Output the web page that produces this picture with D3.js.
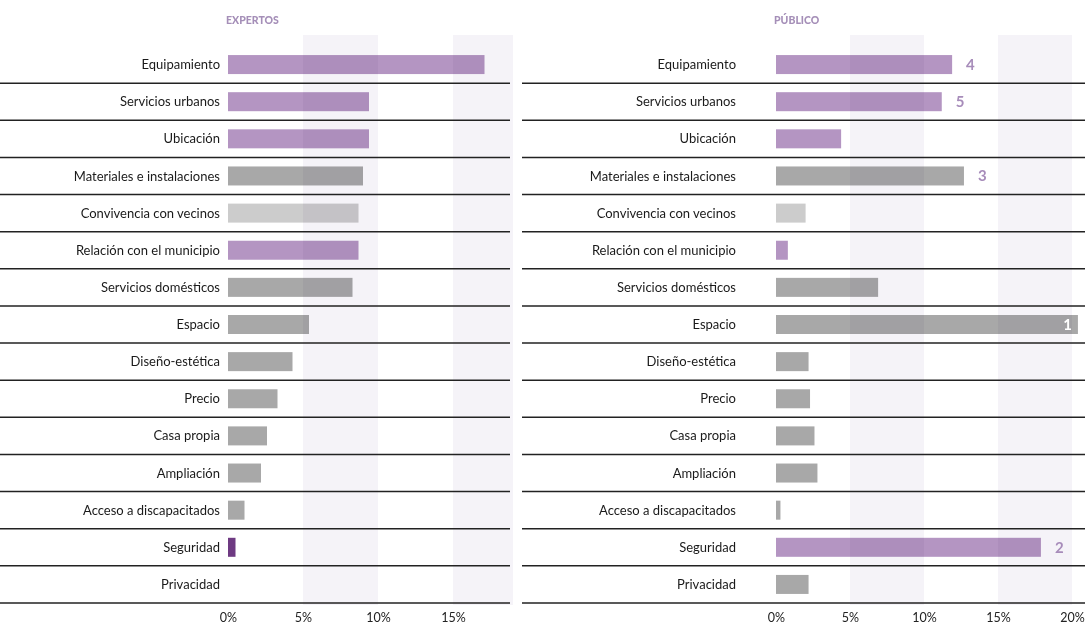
<!DOCTYPE html>
<html>
<head>
<meta charset="utf-8">
<script src="https://cdn.jsdelivr.net/npm/d3@7"></script>
<style>
  body { margin: 0; background: #fff; }
  text { font-family: "Lato", "Open Sans", sans-serif; }
</style>
</head>
<body>
<div id="chart"></div>
<script>
// Data
const categories = [
  "Equipamiento", "Servicios urbanos", "Ubicación", "Materiales e instalaciones",
  "Convivencia con vecinos", "Relación con el municipio", "Servicios domésticos",
  "Espacio", "Diseño-estética", "Precio", "Casa propia", "Ampliación",
  "Acceso a discapacitados", "Seguridad", "Privacidad"
]
const expertos = [17.1, 9.4, 9.4, 9.0, 8.7, 8.7, 8.3, 5.4, 4.3, 3.3, 2.6, 2.2, 1.1, 0.5, 0]
const publico = [11.9, 11.2, 4.4, 12.7, 2.0, 0.8, 6.9, 20.4, 2.2, 2.3, 2.6, 2.8, 0.3, 17.9, 2.2]
const expertosKind = ["p", "p", "p", "g", "l", "p", "g", "g", "g", "g", "g", "g", "g", "d", "g"]
const publicoKind = ["p", "p", "p", "g", "l", "p", "g", "g", "g", "g", "g", "g", "g", "p", "g"]
const publicoRank = [4, 5, null, 3, null, null, null, 1, null, null, null, null, null, 2, null]
const expertosTicks = [0, 5, 10, 15]
const publicoTicks = [0, 5, 10, 15, 20]

const W = 1085, H = 630

const kindColor = d3.scaleOrdinal()
  .domain(["p", "g", "l", "d"])
  .range(["#b495c2", "#a8a8a8", "#cccccc", "#6e3a82"])

const svg = d3.select("#chart").append("svg")
  .attr("width", W).attr("height", H)

const y = d3.scaleBand().domain(categories).range([46, 603])
const barH = 19

function panel(opt) {
  const x = d3.scaleLinear().domain(opt.domain).range(opt.range)
  const g = svg.append("g")

  // title
  g.append("text")
    .attr("x", x(0) - 2).attr("y", 24)
    .style("font-size", "10.5px").style("font-weight", "900")
    .style("fill", "#a58fb8")
    .text(opt.title)

  // bars
  g.selectAll("rect.bar")
    .data(categories)
    .enter().append("rect")
    .attr("class", "bar")
    .attr("x", x(0))
    .attr("y", d => y(d) + (y.bandwidth() - barH) / 2)
    .attr("width", (d, i) => x(opt.values[i]) - x(0))
    .attr("height", barH)
    .style("fill", (d, i) => kindColor(opt.kinds[i]))

  // shaded bands, on top so bars darken a bit
  g.selectAll("rect.shade")
    .data(opt.shades)
    .enter().append("rect")
    .attr("class", "shade")
    .attr("x", d => x(d[0]))
    .attr("width", d => x(d[1]) - x(d[0]))
    .attr("y", 35).attr("height", 570)
    .style("fill", "#f5f3f8")
    .style("mix-blend-mode", "multiply")

  // row lines
  g.selectAll("line.row")
    .data(categories)
    .enter().append("line")
    .attr("class", "row")
    .attr("x1", opt.lineX[0]).attr("x2", opt.lineX[1])
    .attr("y1", d => y(d) + y.bandwidth())
    .attr("y2", d => y(d) + y.bandwidth())
    .style("stroke", "#222").style("stroke-width", 1.5)

  // category labels
  g.selectAll("text.cat")
    .data(categories)
    .enter().append("text")
    .attr("class", "cat")
    .attr("x", opt.labelX)
    .attr("y", d => y(d) + y.bandwidth() / 2)
    .attr("dy", "0.35em")
    .attr("text-anchor", "end")
    .style("font-size", "13px").style("fill", "#1a1a1a")
    .text(d => d)

  // rank numbers
  if (opt.ranks) {
    g.selectAll("text.rank")
      .data(categories)
      .enter().append("text")
      .filter((d, i) => opt.ranks[i] != null)
      .attr("class", "rank")
      .attr("x", d => {
        const i = categories.indexOf(d)
        return x(opt.values[i]) > x(opt.domain[1]) ? x(opt.values[i]) - 6 : x(opt.values[i]) + 14
      })
      .attr("y", d => y(d) + y.bandwidth() / 2)
      .attr("dy", "0.36em")
      .attr("text-anchor", d => {
        const i = categories.indexOf(d)
        return x(opt.values[i]) > x(opt.domain[1]) ? "end" : "start"
      })
      .style("font-size", "15px").style("font-weight", "bold")
      .style("fill", d => {
        const i = categories.indexOf(d)
        return x(opt.values[i]) > x(opt.domain[1]) ? "#fff" : "#a78cba"
      })
      .text(d => opt.ranks[categories.indexOf(d)])
  }

  // axis
  const axis = d3.axisBottom(x)
    .tickValues(opt.ticks)
    .tickSize(0)
    .tickFormat(d => d + "%")
  g.append("g")
    .attr("transform", "translate(0,610)")
    .call(axis)
    .call(a => a.select(".domain").remove())
    .selectAll("text")
    .style("font-family", "Lato, sans-serif")
    .style("font-size", "12.5px").style("fill", "#222")
}

panel({
  title: "EXPERTOS",
  values: expertos, kinds: expertosKind, ranks: null,
  domain: [0, 19], range: [228, 513],
  shades: [[5, 10], [15, 19]],
  ticks: expertosTicks,
  lineX: [0, 510], labelX: 220
})

panel({
  title: "PÚBLICO",
  values: publico, kinds: publicoKind, ranks: publicoRank,
  domain: [0, 20], range: [776, 1072],
  shades: [[5, 10], [15, 20]],
  ticks: publicoTicks,
  lineX: [522, 1085], labelX: 736
})
</script>
</body>
</html>
